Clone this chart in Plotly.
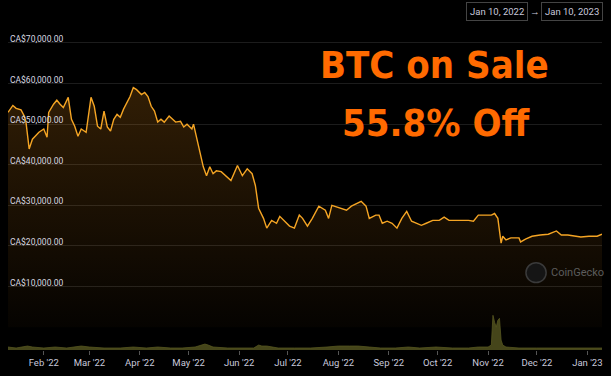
import plotly.graph_objects as go

# ---- price series (CAD) ----
price_dates = [
    "2022-01-10", "2022-01-13", "2022-01-15", "2022-01-18", "2022-01-20", "2022-01-21",
    "2022-01-23", "2022-01-25", "2022-01-29", "2022-02-01", "2022-02-03", "2022-02-04",
    "2022-02-07", "2022-02-09", "2022-02-11", "2022-02-13", "2022-02-16", "2022-02-18",
    "2022-02-20", "2022-02-22", "2022-02-24", "2022-02-27", "2022-03-02", "2022-03-04",
    "2022-03-06", "2022-03-08", "2022-03-10", "2022-03-12", "2022-03-14", "2022-03-16",
    "2022-03-18", "2022-03-20", "2022-03-22", "2022-03-24", "2022-03-26", "2022-03-28",
    "2022-03-30", "2022-04-02", "2022-04-04", "2022-04-06", "2022-04-08", "2022-04-10",
    "2022-04-12", "2022-04-14", "2022-04-16", "2022-04-19", "2022-04-21", "2022-04-23",
    "2022-04-26", "2022-04-28", "2022-04-30", "2022-05-03", "2022-05-04", "2022-05-06",
    "2022-05-08", "2022-05-10", "2022-05-12", "2022-05-14", "2022-05-16", "2022-05-18",
    "2022-05-21", "2022-05-24", "2022-05-27", "2022-05-31", "2022-06-03", "2022-06-06",
    "2022-06-09", "2022-06-11", "2022-06-13", "2022-06-16", "2022-06-18", "2022-06-21",
    "2022-06-24", "2022-06-26", "2022-06-29", "2022-07-02", "2022-07-05", "2022-07-08",
    "2022-07-10", "2022-07-13", "2022-07-16", "2022-07-20", "2022-07-24", "2022-07-26",
    "2022-07-28", "2022-08-01", "2022-08-06", "2022-08-09", "2022-08-12", "2022-08-15",
    "2022-08-18", "2022-08-20", "2022-08-24", "2022-08-26", "2022-08-28", "2022-08-31",
    "2022-09-03", "2022-09-06", "2022-09-09", "2022-09-12", "2022-09-15", "2022-09-18",
    "2022-09-21", "2022-09-24", "2022-09-28", "2022-10-02", "2022-10-05", "2022-10-08",
    "2022-10-12", "2022-10-16", "2022-10-20", "2022-10-23", "2022-10-26", "2022-10-31",
    "2022-11-03", "2022-11-05", "2022-11-07", "2022-11-09", "2022-11-10", "2022-11-12",
    "2022-11-15", "2022-11-20", "2022-11-21", "2022-11-24", "2022-11-28", "2022-12-03",
    "2022-12-08", "2022-12-13", "2022-12-16", "2022-12-20", "2022-12-24", "2022-12-28",
    "2023-01-02", "2023-01-07", "2023-01-10",
]
prices = [
    52900, 54600, 53900, 53500, 52000, 50700,
    43900, 46300, 48000, 48800, 46800, 52900,
    54900, 55900, 54900, 54100, 56600, 51200,
    49500, 47000, 48800, 48000, 56600, 54400,
    49500, 48800, 53200, 49300, 48300, 51200,
    52400, 51700, 53700, 55400, 56800, 59000,
    58500, 57300, 57800, 56800, 54400, 53200,
    50500, 51200, 50500, 52000, 51200, 50500,
    50700, 49300, 50000, 48800, 50000, 46300,
    43200, 39500, 37300, 39500, 37800, 38500,
    38300, 37300, 36100, 39800, 37300, 39000,
    37800, 34900, 29300, 26800, 24400, 26300,
    25600, 27300, 26100, 24900, 24400, 27600,
    26800, 24900, 26800, 29800, 28800, 26800,
    30000, 29500, 28800, 29800, 30500, 31000,
    29800, 26800, 27600, 27600, 25600, 26100,
    25600, 24400, 26800, 28500, 26100, 25600,
    25100, 25600, 26300, 26300, 27100, 26300,
    26300, 26300, 26300, 26100, 27600, 27600,
    27600, 28000, 26800, 20700, 22400, 21500,
    22000, 22000, 21000, 21700, 22400, 22700,
    22900, 23700, 22700, 22700, 22400, 22200,
    22400, 22400, 22900,
]

# ---- volume (relative units) ----
volume_dates = [
    "2022-01-10", "2022-01-15", "2022-01-22", "2022-01-25", "2022-02-01", "2022-02-08",
    "2022-02-15", "2022-02-24", "2022-03-01", "2022-03-10", "2022-03-20", "2022-03-28",
    "2022-04-05", "2022-04-12", "2022-04-20", "2022-04-27", "2022-05-05", "2022-05-09",
    "2022-05-11", "2022-05-13", "2022-05-16", "2022-05-25", "2022-06-01", "2022-06-10",
    "2022-06-13", "2022-06-15", "2022-06-18", "2022-06-25", "2022-07-05", "2022-07-15",
    "2022-07-25", "2022-08-01", "2022-08-08", "2022-08-13", "2022-08-20", "2022-08-27",
    "2022-09-05", "2022-09-13", "2022-09-20", "2022-09-30", "2022-10-10", "2022-10-20",
    "2022-10-26", "2022-11-01", "2022-11-03", "2022-11-04", "2022-11-05", "2022-11-06",
    "2022-11-07", "2022-11-08", "2022-11-09", "2022-11-10", "2022-11-12", "2022-11-20",
    "2022-12-01", "2022-12-10", "2022-12-20", "2023-01-01", "2023-01-10",
]
volumes = [
    30, 20, 40, 30, 20, 30,
    20, 40, 30, 20, 20, 30,
    20, 30, 20, 20, 30, 50,
    60, 50, 30, 20, 20, 20,
    50, 40, 40, 20, 20, 20,
    30, 40, 40, 40, 30, 20,
    20, 30, 20, 30, 20, 20,
    30, 30, 50, 350, 280, 230,
    300, 320, 100, 50, 30, 20,
    20, 20, 15, 15, 20,
]

y_ticks = [10000, 20000, 30000, 40000, 50000, 60000, 70000]
y_tick_labels = ["CA$10,000.00", "CA$20,000.00", "CA$30,000.00", "CA$40,000.00",
                 "CA$50,000.00", "CA$60,000.00", "CA$70,000.00"]
x_ticks = ["2022-02-01", "2022-03-01", "2022-04-01", "2022-05-01", "2022-06-01",
           "2022-07-01", "2022-08-01", "2022-09-01", "2022-10-01", "2022-11-01",
           "2022-12-01", "2023-01-01"]
x_tick_labels = ["Feb '22", "Mar '22", "Apr '22", "May '22", "Jun '22", "Jul '22",
                 "Aug '22", "Sep '22", "Oct '22", "Nov '22", "Dec '22", "Jan '23"]

LABEL_FONT = "Roboto, 'Noto Sans', sans-serif"

fig = go.Figure()

fig.add_trace(go.Scatter(
    x=volume_dates, y=volumes, yaxis="y2", mode="lines",
    line=dict(color="#55551f", width=0.8), fill="tozeroy",
    fillcolor="#45451a", hoverinfo="skip", showlegend=False,
))

fig.add_trace(go.Scatter(
    x=price_dates, y=prices, mode="lines",
    line=dict(color="#f5a524", width=1.4),
    fill="tozeroy",
    fillgradient=dict(type="vertical", start=0, stop=60000,
                      colorscale=[[0, "rgba(247,150,26,0.02)"], [1, "rgba(247,150,26,0.2)"]]),
    showlegend=False,
))

fig.update_layout(
    width=611, height=376,
    margin=dict(l=8, r=8, t=35, b=23),
    paper_bgcolor="#000000", plot_bgcolor="#000000",
    font=dict(family=LABEL_FONT, color="#d0d0d8"),
    xaxis=dict(
        type="date", range=["2022-01-10", "2023-01-10"],
        tickvals=x_ticks, ticktext=x_tick_labels,
        ticks="outside", ticklen=4, tickcolor="#555",
        showgrid=False, zeroline=False, showline=False,
        tickfont=dict(size=9.5, color="#c8c8dc"),
    ),
    yaxis=dict(
        range=[-5610, 71950], tickvals=y_ticks, showticklabels=False,
        gridcolor="#1c1c1c", gridwidth=1, zeroline=False, showline=False,
    ),
    yaxis2=dict(
        overlaying="y", range=[0, 3180], visible=False, fixedrange=True,
    ),
)

# Price axis labels, sitting just above each gridline (inside the plot)
for v, t in zip(y_ticks, y_tick_labels):
    fig.add_annotation(text=t, xref="paper", yref="y", x=0, y=v,
                       xanchor="left", yanchor="bottom", xshift=0, yshift=-3,
                       showarrow=False, font=dict(size=8.5, color="#d8d8e0"))

title_font = dict(family="'DejaVu Sans Condensed', 'DejaVu Sans', sans-serif",
                  size=38, weight="bold", color="#ff6a00")
fig.add_annotation(text="BTC on Sale", xref="paper", yref="paper",
                   x=0.718, y=0.906, xanchor="center", yanchor="middle",
                   showarrow=False, font=title_font)
fig.add_annotation(text="55.8% Off", xref="paper", yref="paper",
                   x=0.72, y=0.72, xanchor="center", yanchor="middle",
                   showarrow=False, font=title_font)

# Date range boxes
box_font = dict(size=9.5, color="#c8c8dc")
fig.add_annotation(text="Jan 10, 2022", xref="paper", yref="paper", x=0.823, y=1.074,
                   xanchor="center", yanchor="middle", showarrow=False,
                   bordercolor="#444", borderwidth=1, borderpad=3, font=box_font)
fig.add_annotation(text="→", xref="paper", yref="paper", x=0.887, y=1.074,
                   xanchor="center", yanchor="middle", showarrow=False, font=box_font)
fig.add_annotation(text="Jan 10, 2023", xref="paper", yref="paper", x=0.949, y=1.074,
                   xanchor="center", yanchor="middle", showarrow=False,
                   bordercolor="#444", borderwidth=1, borderpad=3, font=box_font)

# CoinGecko watermark
fig.add_shape(type="circle", xref="paper", yref="paper",
              x0=0.872, x1=0.906, y0=0.214, y1=0.277,
              line=dict(color="#3a3a3a", width=1.5), fillcolor="#151515")
fig.add_annotation(text="CoinGecko", xref="paper", yref="paper", x=0.911, y=0.245,
                   xanchor="left", yanchor="middle", showarrow=False,
                   font=dict(size=11, color="#5c5c5c"))

fig.write_html("out.html", config={"displayModeBar": False},
               post_script="document.body.style.margin='0';")
